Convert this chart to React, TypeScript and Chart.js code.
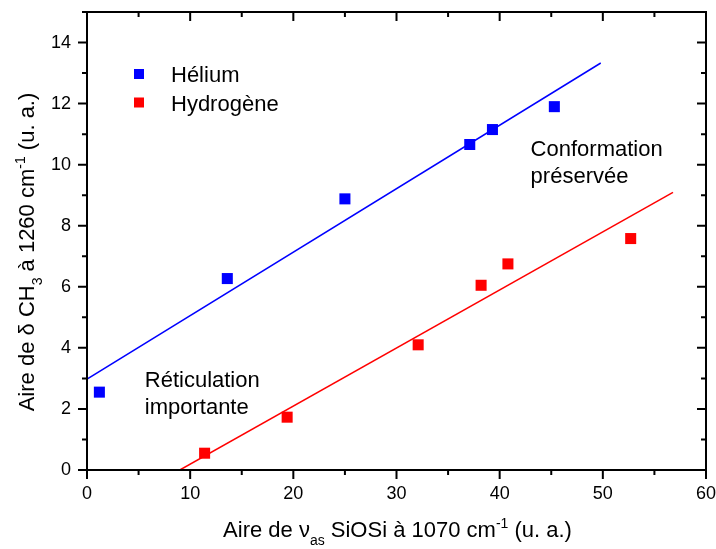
import React, { useEffect, useRef } from 'react';
import { Chart, registerables } from 'chart.js';
Chart.register(...registerables);

// ---- data ----
const heliumX = [1.2, 13.6, 25.0, 37.1, 39.3, 45.3];
const heliumY = [2.55, 6.27, 8.88, 10.66, 11.15, 11.9];
const hydroX = [11.4, 19.4, 32.1, 38.2, 40.8, 52.7];
const hydroY = [0.55, 1.73, 4.1, 6.05, 6.75, 7.58];
const heliumFitX = [0, 49.8];
const heliumFitY = [2.98, 13.33];
const hydroFitX = [9.0, 56.8];
const hydroFitY = [0, 9.09];

const seriesLabels = ['Hélium', 'Hydrogène'];
const seriesColors = ['#0000FF', '#FF0000'];
const xRange = [0, 60];
const yRange = [0, 15];
const xMajor = 10;
const xMinor = 5;
const yMajor = 2;
const yMinor = 1;
const noteTop = ['Conformation', 'préservée'];
const noteBottom = ['Réticulation', 'importante'];

const FONT = '"Liberation Sans", Arial, Helvetica, sans-serif';

type Seg = { t: string; s: number; dy?: number };
const xTitle: Seg[] = [
  { t: 'Aire de ', s: 22 },
  { t: 'ν', s: 22 },
  { t: 'as', s: 14, dy: 8 },
  { t: ' SiOSi à 1070 cm', s: 22 },
  { t: '-1', s: 14, dy: -9 },
  { t: ' (u. a.)', s: 22 },
];
const yTitle: Seg[] = [
  { t: 'Aire de δ CH', s: 22 },
  { t: '3', s: 14, dy: 8 },
  { t: ' à 1260 cm', s: 22 },
  { t: '-1', s: 14, dy: -9 },
  { t: ' (u. a.)', s: 22 },
];

function drawRich(ctx: CanvasRenderingContext2D, segs: Seg[], cx: number, y: number) {
  let total = 0;
  const widths = segs.map((g) => {
    ctx.font = `${g.s}px ${FONT}`;
    const w = ctx.measureText(g.t).width;
    total += w;
    return w;
  });
  let x = cx - total / 2;
  ctx.textAlign = 'left';
  ctx.textBaseline = 'alphabetic';
  segs.forEach((g, i) => {
    ctx.font = `${g.s}px ${FONT}`;
    ctx.fillText(g.t, x, y + (g.dy || 0));
    x += widths[i];
  });
}

const decorPlugin = {
  id: 'decor',
  afterDatasetsDraw(chart: any) {
    const { ctx, chartArea: a, scales } = chart;
    const xs = scales.x;
    const ys = scales.y;
    ctx.save();
    ctx.strokeStyle = '#000';
    ctx.lineWidth = 2;
    ctx.beginPath();
    for (let v = xRange[0]; v <= xRange[1] + 1e-9; v += xMinor) {
      const px = xs.getPixelForValue(v);
      const len = Math.abs(v % xMajor) < 1e-9 ? 9 : 5;
      ctx.moveTo(px, a.bottom);
      ctx.lineTo(px, a.bottom + len);
      ctx.moveTo(px, a.top);
      ctx.lineTo(px, a.top + len);
    }
    for (let v = yRange[0]; v <= yRange[1] + 1e-9; v += yMinor) {
      const py = ys.getPixelForValue(v);
      const len = Math.abs(v % yMajor) < 1e-9 ? 9 : 5;
      ctx.moveTo(a.left, py);
      ctx.lineTo(a.left - len, py);
      ctx.moveTo(a.right, py);
      ctx.lineTo(a.right - len, py);
    }
    ctx.stroke();
    ctx.strokeRect(a.left, a.top, a.right - a.left, a.bottom - a.top);
    ctx.restore();
  },
  afterDraw(chart: any) {
    const { ctx, chartArea: a, scales } = chart;
    const xs = scales.x;
    const ys = scales.y;
    ctx.save();
    ctx.fillStyle = '#000';

    // legend
    seriesLabels.forEach((lab, i) => {
      const cy = a.top + 62 + i * 28.5;
      ctx.fillStyle = seriesColors[i];
      ctx.fillRect(a.left + 47, cy - 5, 10, 10);
      ctx.fillStyle = '#000';
      ctx.font = `22px ${FONT}`;
      ctx.textAlign = 'left';
      ctx.textBaseline = 'alphabetic';
      ctx.fillText(lab, a.left + 84, cy + 8);
    });

    // annotations
    ctx.font = `22px ${FONT}`;
    ctx.textAlign = 'left';
    ctx.textBaseline = 'alphabetic';
    const tx = xs.getPixelForValue(43.0);
    const ty = ys.getPixelForValue(10.27);
    noteTop.forEach((l, i) => ctx.fillText(l, tx, ty + i * 27));
    const bx = xs.getPixelForValue(5.6);
    const by = ys.getPixelForValue(2.72);
    noteBottom.forEach((l, i) => ctx.fillText(l, bx, by + i * 27));

    // axis titles
    drawRich(ctx, xTitle, (a.left + a.right) / 2 + 1, 537);
    ctx.save();
    ctx.translate(34, 252);
    ctx.rotate(-Math.PI / 2);
    drawRich(ctx, yTitle, 0, 0);
    ctx.restore();
    ctx.restore();
  },
};

export default function App() {
  const ref = useRef<HTMLCanvasElement>(null);
  useEffect(() => {
    const canvas = ref.current!;
    const pts = (xs: number[], ys: number[]) => xs.map((x, i) => ({ x, y: ys[i] }));
    const chart = new Chart(canvas, {
      type: 'scatter',
      data: {
        datasets: [
          {
            label: seriesLabels[0] + ' fit',
            data: pts(heliumFitX, heliumFitY),
            showLine: true,
            borderColor: seriesColors[0],
            borderWidth: 1.5,
            pointRadius: 0,
          },
          {
            label: seriesLabels[1] + ' fit',
            data: pts(hydroFitX, hydroFitY),
            showLine: true,
            borderColor: seriesColors[1],
            borderWidth: 1.5,
            pointRadius: 0,
          },
          {
            label: seriesLabels[0],
            data: pts(heliumX, heliumY),
            pointStyle: 'rect',
            pointRadius: 7.8,
            pointBorderWidth: 0,
            backgroundColor: seriesColors[0],
            borderColor: seriesColors[0],
          },
          {
            label: seriesLabels[1],
            data: pts(hydroX, hydroY),
            pointStyle: 'rect',
            pointRadius: 7.8,
            pointBorderWidth: 0,
            backgroundColor: seriesColors[1],
            borderColor: seriesColors[1],
          },
        ],
      } as any,
      options: {
        animation: false,
        responsive: false,
        devicePixelRatio: 1,
        layout: { padding: 0 },
        plugins: { legend: { display: false }, tooltip: { enabled: false } },
        scales: {
          x: {
            type: 'linear',
            min: xRange[0],
            max: xRange[1],
            grid: { display: false, drawTicks: false },
            border: { display: false },
            ticks: {
              stepSize: xMajor,
              padding: 13,
              color: '#000',
              font: { family: FONT, size: 18 },
              maxRotation: 0,
            },
            afterFit: (s: any) => {
              s.height = 79;
              s.paddingLeft = 0;
              s.paddingRight = 10;
            },
          },
          y: {
            type: 'linear',
            min: yRange[0],
            max: yRange[1],
            grid: { display: false, drawTicks: false },
            border: { display: false },
            ticks: {
              stepSize: yMajor,
              includeBounds: false,
              padding: 16,
              color: '#000',
              font: { family: FONT, size: 18 },
            },
            afterFit: (s: any) => {
              s.width = 87;
              s.paddingTop = 12;
              s.paddingBottom = 0;
            },
          },
        },
      } as any,
      plugins: [decorPlugin],
    });
    return () => chart.destroy();
  }, []);
  return (
    <div style={{ position: 'fixed', left: 0, top: 0, width: 716, height: 549, background: '#fff' }}>
      <canvas ref={ref} width={716} height={549} style={{ display: 'block' }} />
    </div>
  );
}
